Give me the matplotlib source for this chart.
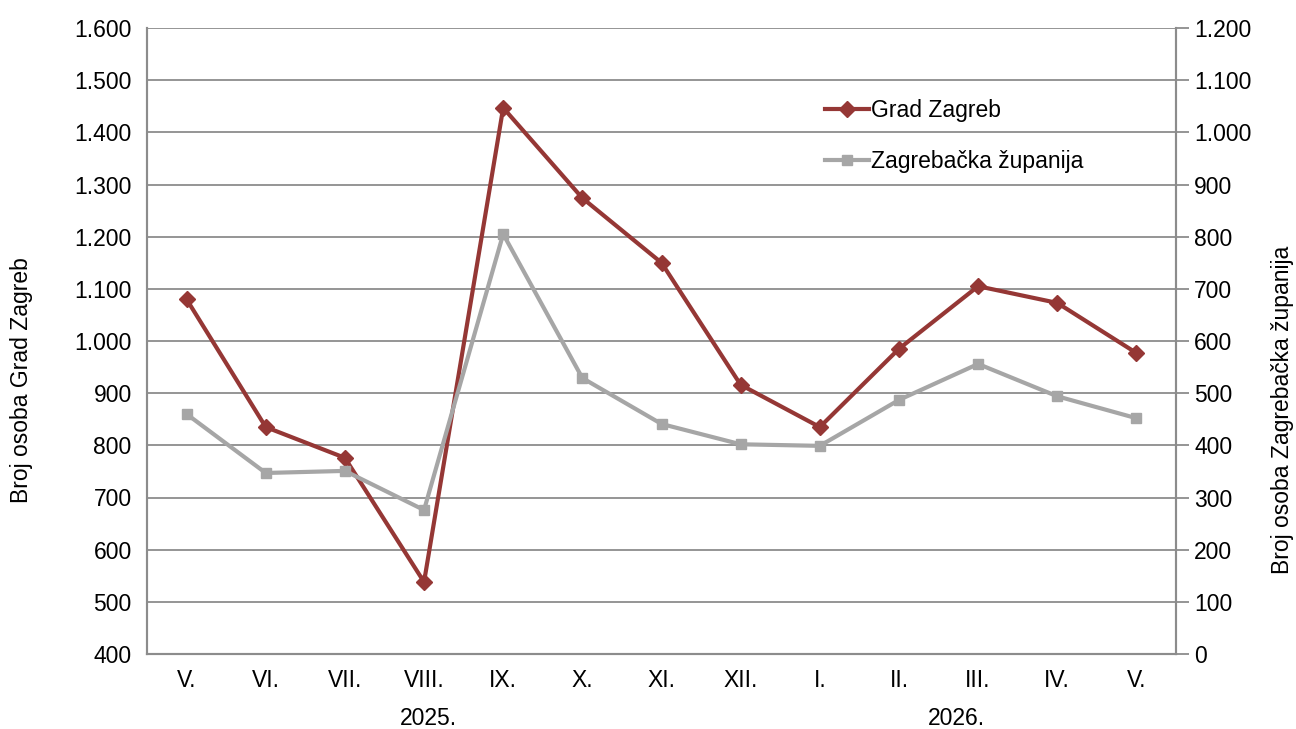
import matplotlib.pyplot as plt
from matplotlib.ticker import FuncFormatter

plt.rcParams['font.family'] = ['Liberation Sans', 'DejaVu Sans']

months = ['V.', 'VI.', 'VII.', 'VIII.', 'IX.', 'X.', 'XI.', 'XII.',
          'I.', 'II.', 'III.', 'IV.', 'V.']
grad_zagreb = [1080, 835, 776, 538, 1447, 1274, 1150, 916, 835, 985, 1105, 1073, 977]
zagrebacka = [460, 347, 351, 276, 805, 529, 441, 402, 399, 487, 556, 494, 452]
years = ['2025.', '2026.']
year_pos = [3.06, 9.73]

red = '#953735'
gray = '#A6A6A6'
axis_gray = '#8C8C8C'
fs = 16.5


def dot_thousands(v, pos):
    return f'{int(round(v)):,}'.replace(',', '.')


fig = plt.figure(figsize=(12.96, 7.29), dpi=100)
ax = fig.add_axes([147 / 1296, 1 - 654 / 729, 1029 / 1296, 626 / 729])
ax2 = ax.twinx()

x = list(range(len(months)))
l1, = ax.plot(x, grad_zagreb, color=red, linewidth=3, marker='D',
              markersize=8, label='Grad Zagreb')
l2, = ax2.plot(x, zagrebacka, color=gray, linewidth=3, marker='s',
               markersize=7.5, label='Zagrebačka županija')

ax.set_xlim(-0.5, len(months) - 0.5)
ax.set_ylim(400, 1600)
ax2.set_ylim(0, 1200)
ax.set_yticks(range(400, 1601, 100))
ax2.set_yticks(range(0, 1201, 100))
ax.yaxis.set_major_formatter(FuncFormatter(dot_thousands))
ax2.yaxis.set_major_formatter(FuncFormatter(dot_thousands))

ax.grid(axis='y', color=axis_gray, linewidth=1.3)
ax.set_axisbelow(True)

ax.set_xticks(x)
ax.set_xticklabels(months)
ax.tick_params(axis='x', length=0, labelsize=fs, pad=11)
ax.tick_params(axis='y', length=0, labelsize=fs, pad=11)
ax2.tick_params(axis='y', length=9, width=1.3, color=axis_gray, labelsize=fs, pad=4)

for a in (ax, ax2):
    a.spines['top'].set_visible(False)
    for s in ('left', 'right', 'bottom'):
        a.spines[s].set_color(axis_gray)
        a.spines[s].set_linewidth(1.5)

for lbl, pos in zip(years, year_pos):
    ax.text(pos, -0.103, lbl, transform=ax.get_xaxis_transform(),
            ha='center', va='center', fontsize=fs)

fig.text(22 / 1296, 1 - 380 / 729, 'Broj osoba Grad Zagreb', rotation=90,
         ha='center', va='center', fontsize=fs)
fig.text(1283 / 1296, 1 - 410 / 729, 'Broj osoba Zagrebačka županija', rotation=90,
         ha='center', va='center', fontsize=fs)

ax2.legend(handles=[l1, l2], loc='upper left', bbox_to_anchor=(0.659, 0.887),
           frameon=False, fontsize=fs, handlelength=1.9, handletextpad=0.1,
           labelspacing=1.25, borderpad=0, borderaxespad=0)

fig.savefig('out.png', dpi=100)
